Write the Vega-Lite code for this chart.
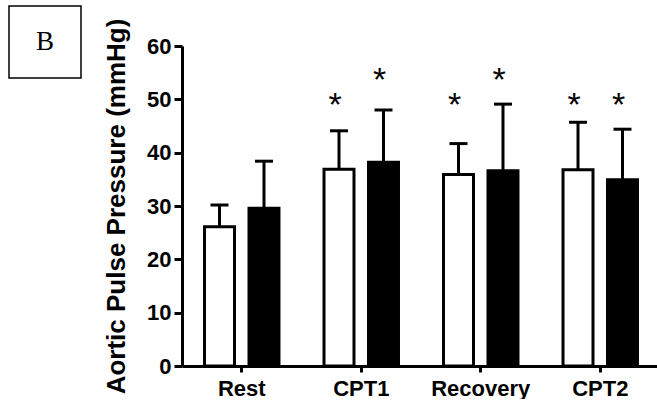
{
  "$schema": "https://vega.github.io/schema/vega-lite/v6.json",
  "padding": {"left": 8, "top": 5, "right": 0, "bottom": 0},
  "background": "white",
  "config": {"font": "Liberation Sans", "view": {"stroke": null}},
  "spacing": 21,
  "hconcat": [
    {
      "width": 72,
      "height": 72,
      "view": {"stroke": "black", "strokeWidth": 1.5},
      "data": {"values": [{"label": "B"}]},
      "mark": {"type": "text", "font": "Liberation Serif", "fontSize": 27, "color": "black"},
      "encoding": {"text": {"field": "label"}}
    },
    {
      "width": 478,
      "height": 360,
      "data": {
        "values": [
          {"phase": "Rest", "group": "Group 1", "mean": 26.1, "upper": 30.2, "star": null, "sig": ""},
          {"phase": "Rest", "group": "Group 2", "mean": 29.6, "upper": 38.4, "star": null, "sig": ""},
          {"phase": "CPT1", "group": "Group 1", "mean": 36.9, "upper": 44.1, "star": 49.5, "sig": "*"},
          {"phase": "CPT1", "group": "Group 2", "mean": 38.2, "upper": 48.0, "star": 54.2, "sig": "*"},
          {"phase": "Recovery", "group": "Group 1", "mean": 35.9, "upper": 41.7, "star": 49.5, "sig": "*"},
          {"phase": "Recovery", "group": "Group 2", "mean": 36.6, "upper": 49.1, "star": 54.2, "sig": "*"},
          {"phase": "CPT2", "group": "Group 1", "mean": 36.8, "upper": 45.7, "star": 49.5, "sig": "*"},
          {"phase": "CPT2", "group": "Group 2", "mean": 34.9, "upper": 44.4, "star": 49.5, "sig": "*"}
        ]
      },
      "encoding": {
        "x": {
          "field": "phase",
          "type": "nominal",
          "sort": ["Rest", "CPT1", "Recovery", "CPT2"],
          "scale": {"paddingInner": 0, "paddingOuter": 0},
          "axis": {
            "title": null,
            "labelAngle": 0,
            "labelFontSize": 22,
            "labelFontWeight": "bold",
            "labelColor": "black",
            "labelPadding": 6,
            "tickSize": 6,
            "tickWidth": 3,
            "tickColor": "black",
            "domainColor": "black",
            "domainWidth": 3
          }
        },
        "xOffset": {
          "field": "group",
          "type": "nominal",
          "sort": ["Group 1", "Group 2"],
          "scale": {"paddingInner": 0.326, "paddingOuter": 0.506}
        }
      },
      "layer": [
        {
          "mark": {"type": "bar", "stroke": "black", "strokeWidth": 3},
          "encoding": {
            "y": {
              "field": "mean",
              "type": "quantitative",
              "scale": {"domain": [0, 60], "nice": false, "range": [360, 40]},
              "axis": {
                "values": [0, 10, 20, 30, 40, 50, 60],
                "title": "Aortic Pulse Pressure (mmHg)",
                "titleFontSize": 26,
                "titleFontWeight": "bold",
                "titleColor": "black",
                "titlePadding": 17,
                "labelFontSize": 22,
                "labelFontWeight": "bold",
                "labelColor": "black",
                "labelPadding": 3,
                "tickSize": 8,
                "tickWidth": 3,
                "tickColor": "black",
                "domainColor": "black",
                "domainWidth": 3,
                "grid": false
              }
            },
            "fill": {
              "field": "group",
              "type": "nominal",
              "scale": {"domain": ["Group 1", "Group 2"], "range": ["white", "black"]},
              "legend": null
            }
          }
        },
        {
          "mark": {"type": "rule", "strokeWidth": 3, "color": "black"},
          "encoding": {
            "y": {"field": "mean", "type": "quantitative"},
            "y2": {"field": "upper"}
          }
        },
        {
          "mark": {"type": "tick", "orient": "horizontal", "thickness": 3, "size": 18, "color": "black", "opacity": 1},
          "encoding": {
            "y": {"field": "upper", "type": "quantitative"}
          }
        },
        {
          "transform": [{"filter": "isValid(datum.star)"}],
          "mark": {"type": "text", "fontSize": 34, "dx": -4, "dy": 4, "baseline": "middle", "color": "black"},
          "encoding": {
            "y": {"field": "star", "type": "quantitative"},
            "text": {"field": "sig"}
          }
        }
      ]
    }
  ]
}
